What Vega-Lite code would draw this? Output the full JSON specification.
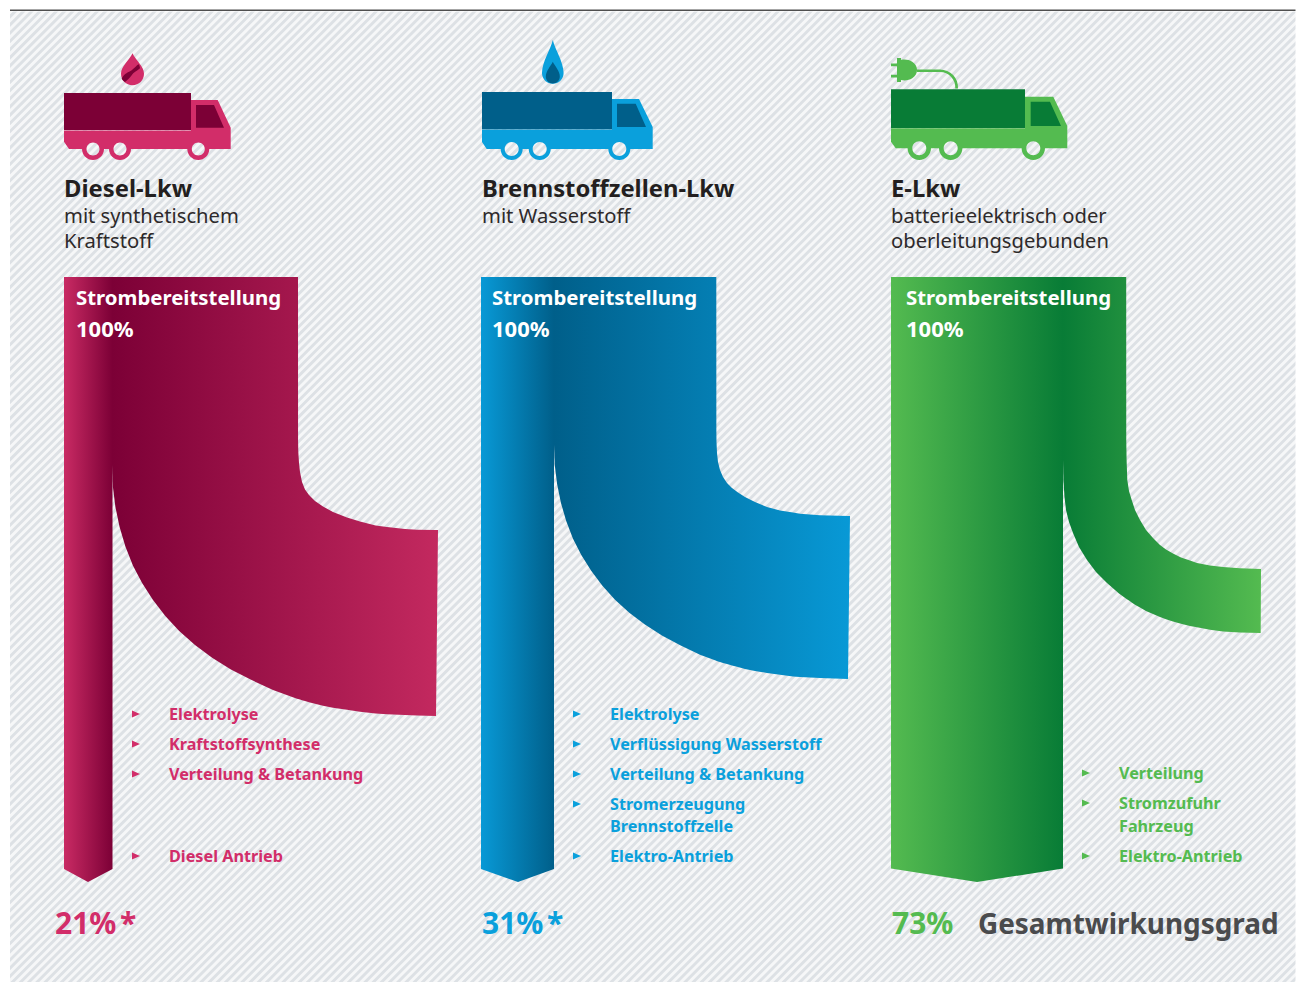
{
"$schema":"https://vega.github.io/schema/vega-lite/v6.json",
"width":1301,"height":983,"padding":0,"autosize":{"type":"none"},
"background":"#f6f7f8",
"view":{"stroke":null},
"config":{"font":"Noto Sans"},
"datasets":{
"hatch":[{"x":0,"y":0,"x2":1301,"y2":1301}],
"frame":[{"x":0,"x2":1301,"y":0,"y2":11.5},{"x":0,"x2":10,"y":0,"y2":983},{"x":1295.5,"x2":1301,"y":0,"y2":983},{"x":0,"x2":1301,"y":982,"y2":983}],
"topline":[{"x":10,"x2":1295.5,"y":10.3,"y2":10.3}],
"dieselLoss":[{"x":112,"y":277,"y2":465},{"x":112.8,"y":277,"y2":486},{"x":115.4,"y":277,"y2":507},{"x":119.6,"y":277,"y2":527},{"x":125.4,"y":277,"y2":546.6},{"x":132.9,"y":277,"y2":565.5},{"x":142.1,"y":277,"y2":583.1},{"x":153,"y":277,"y2":600},{"x":165.3,"y":277,"y2":616},{"x":179.2,"y":277,"y2":631},{"x":195,"y":277,"y2":645},{"x":212.1,"y":277,"y2":657.7},{"x":230.9,"y":277,"y2":669.5},{"x":251.1,"y":277,"y2":679.8},{"x":273,"y":277,"y2":690},{"x":296.3,"y":277,"y2":698.5},{"x":298,"y":277,"y2":699},{"x":298.05,"y":440,"y2":699},{"x":298.3,"y":452,"y2":699.1},{"x":299,"y":463,"y2":699.3},{"x":300,"y":472,"y2":699.6},{"x":302,"y":482,"y2":700.2},{"x":305,"y":489.5,"y2":701},{"x":309,"y":495,"y2":702.2},{"x":315,"y":501,"y2":703.8},{"x":323,"y":506.5,"y2":705.8},{"x":333,"y":512,"y2":707.8},{"x":347,"y":517.5,"y2":709.8},{"x":360,"y":521.5,"y2":711.7},{"x":375.6,"y":525.5,"y2":713.5},{"x":387,"y":527,"y2":714.2},{"x":405,"y":529,"y2":715},{"x":417,"y":529.7,"y2":715.4},{"x":436,"y":530,"y2":716},{"x":438,"y":530,"y2":530}],
"dieselCol":[{"x":64,"y":277,"y2":869},{"x":88,"y":277,"y2":882},{"x":112.5,"y":277,"y2":869}],
"h2Loss":[{"x":554,"y":277,"y2":445},{"x":554.7,"y":277,"y2":464.6},{"x":557.1,"y":277,"y2":484.1},{"x":560.9,"y":277,"y2":502.8},{"x":566.2,"y":277,"y2":521},{"x":573,"y":277,"y2":538.7},{"x":581.3,"y":277,"y2":555},{"x":591.2,"y":277,"y2":570.8},{"x":602.4,"y":277,"y2":585.7},{"x":615,"y":277,"y2":599.7},{"x":629.3,"y":277,"y2":612.8},{"x":644.9,"y":277,"y2":624.6},{"x":661.9,"y":277,"y2":635.6},{"x":680.2,"y":277,"y2":645.2},{"x":700,"y":277,"y2":654.7},{"x":716.3,"y":277,"y2":660.8},{"x":716.35,"y":430,"y2":660.8},{"x":716.5,"y":442,"y2":660.9},{"x":717,"y":453,"y2":661},{"x":718,"y":462,"y2":661.4},{"x":720,"y":470,"y2":662},{"x":723,"y":477,"y2":662.9},{"x":727,"y":483,"y2":664},{"x":732,"y":488,"y2":665.4},{"x":738,"y":492.5,"y2":667},{"x":745,"y":497,"y2":669},{"x":755,"y":502,"y2":671},{"x":767,"y":507,"y2":672.9},{"x":780,"y":510.5,"y2":674.8},{"x":793,"y":512.5,"y2":676.4},{"x":800,"y":513.7,"y2":677},{"x":820,"y":515.3,"y2":678},{"x":848,"y":516,"y2":679},{"x":850,"y":516,"y2":516}],
"h2Col":[{"x":481,"y":277,"y2":869},{"x":518,"y":277,"y2":882},{"x":554,"y":277,"y2":869}],
"eLoss":[{"x":1063,"y":277,"y2":460},{"x":1063.4,"y":277,"y2":480},{"x":1064.5,"y":277,"y2":497},{"x":1066,"y":277,"y2":510},{"x":1069,"y":277,"y2":522},{"x":1073,"y":277,"y2":533},{"x":1079,"y":277,"y2":547},{"x":1087,"y":277,"y2":560},{"x":1096,"y":277,"y2":572},{"x":1107,"y":277,"y2":583},{"x":1119,"y":277,"y2":593.5},{"x":1126.2,"y":277,"y2":598.8},{"x":1126.25,"y":440,"y2":598.8},{"x":1126.6,"y":460,"y2":599},{"x":1127.3,"y":480,"y2":599.5},{"x":1129,"y":491,"y2":600.6},{"x":1131.7,"y":500,"y2":602.4},{"x":1135,"y":510,"y2":604.8},{"x":1140,"y":520,"y2":607.6},{"x":1146,"y":530,"y2":611},{"x":1153,"y":538,"y2":614},{"x":1160,"y":545,"y2":617},{"x":1166,"y":549.5,"y2":619.2},{"x":1173,"y":553.5,"y2":621.5},{"x":1181,"y":557.5,"y2":623.8},{"x":1190,"y":560.5,"y2":626},{"x":1197,"y":563,"y2":627.3},{"x":1210,"y":565.5,"y2":629.8},{"x":1223,"y":567,"y2":631.5},{"x":1240,"y":568.3,"y2":632.5},{"x":1260.7,"y":569,"y2":633},{"x":1261,"y":569,"y2":569}],
"eCol":[{"x":891,"y":277,"y2":868.5},{"x":977,"y":277,"y2":882},{"x":1063,"y":277,"y2":868.5}],
"dieselTruck":[{"x":64,"y":93}],
"h2Truck":[{"x":482,"y":92}],
"eTruck":[{"x":891,"y":89.3}],
"dieselDrop":[{"x":132.5,"y":85.3}],
"h2Drop":[{"x":552.8,"y":84}],
"plug":[{"x":891,"y":58}],
"titles":[{"x":64,"y":197,"t":"Diesel-Lkw"},{"x":482,"y":197,"t":"Brennstoffzellen-Lkw"},{"x":891,"y":197,"t":"E-Lkw"}],
"subs":[{"x":64,"y":223,"t":"mit synthetischem"},{"x":64,"y":248,"t":"Kraftstoff"},{"x":482,"y":223,"t":"mit Wasserstoff"},{"x":891,"y":223,"t":"batterieelektrisch oder"},{"x":891,"y":248,"t":"oberleitungsgebunden"}],
"flow":[{"x":76,"y":305,"t":"Strombereitstellung"},{"x":492,"y":305,"t":"Strombereitstellung"},{"x":906,"y":305,"t":"Strombereitstellung"}],
"flowPct":[{"x":76,"y":337,"t":"100%"},{"x":492,"y":337,"t":"100%"},{"x":906,"y":337,"t":"100%"}],
"steps":[
{"x":169,"y":720,"t":"Elektrolyse","s":"Diesel"},{"x":169,"y":750,"t":"Kraftstoffsynthese","s":"Diesel"},{"x":169,"y":780,"t":"Verteilung & Betankung","s":"Diesel"},{"x":169,"y":862,"t":"Diesel Antrieb","s":"Diesel"},
{"x":610,"y":720,"t":"Elektrolyse","s":"H2"},{"x":610,"y":750,"t":"Verflüssigung Wasserstoff","s":"H2"},{"x":610,"y":780,"t":"Verteilung & Betankung","s":"H2"},{"x":610,"y":810,"t":"Stromerzeugung","s":"H2"},{"x":610,"y":832,"t":"Brennstoffzelle","s":"H2"},{"x":610,"y":862,"t":"Elektro-Antrieb","s":"H2"},
{"x":1119,"y":779,"t":"Verteilung","s":"E"},{"x":1119,"y":809,"t":"Stromzufuhr","s":"E"},{"x":1119,"y":832,"t":"Fahrzeug","s":"E"},{"x":1119,"y":862,"t":"Elektro-Antrieb","s":"E"}],
"bullets":[
{"x":136,"y":714,"s":"Diesel"},{"x":136,"y":744,"s":"Diesel"},{"x":136,"y":774,"s":"Diesel"},{"x":136,"y":856,"s":"Diesel"},
{"x":577,"y":714,"s":"H2"},{"x":577,"y":744,"s":"H2"},{"x":577,"y":774,"s":"H2"},{"x":577,"y":804,"s":"H2"},{"x":577,"y":856,"s":"H2"},
{"x":1086,"y":773,"s":"E"},{"x":1086,"y":803,"s":"E"},{"x":1086,"y":856,"s":"E"}],
"results":[{"x":55,"y":934,"t":"21%","s":"Diesel"},{"x":120,"y":934,"t":"*","s":"Diesel"},{"x":482,"y":934,"t":"31%","s":"H2"},{"x":547,"y":934,"t":"*","s":"H2"},{"x":892,"y":934,"t":"73%","s":"E"}],
"total":[{"x":978,"y":934,"t":"Gesamtwirkungsgrad"}]
},
"encoding":{
"x":{"field":"x","type":"quantitative","scale":{"domain":[0,1301],"nice":false,"zero":false},"axis":null},
"y":{"field":"y","type":"quantitative","scale":{"domain":[983,0],"nice":false,"zero":false},"axis":null}
},
"layer":[
{"data":{"name":"hatch"},"mark":{"type":"rule","stroke":"#dde1e5","strokeWidth":1950,"strokeDash":[2.9,2.9],"strokeCap":"butt"},"encoding":{"x2":{"field":"x2"},"y2":{"field":"y2"}}},
{"data":{"name":"frame"},"mark":{"type":"rect","fill":"#ffffff"},"encoding":{"x2":{"field":"x2"},"y2":{"field":"y2"}}},
{"data":{"name":"topline"},"mark":{"type":"rule","stroke":"#4f4f4f","strokeWidth":1.6},"encoding":{"x2":{"field":"x2"}}},

{"data":{"name":"dieselLoss"},"mark":{"type":"area","orient":"vertical","color":{"gradient":"linear","x1":0,"y1":0,"x2":1,"y2":0,"stops":[{"offset":0,"color":"#7c0036"},{"offset":1,"color":"#c3295f"}]}},"encoding":{"y2":{"field":"y2"}}},
{"data":{"name":"dieselCol"},"mark":{"type":"area","orient":"vertical","color":{"gradient":"linear","x1":0,"y1":0,"x2":1,"y2":0,"stops":[{"offset":0,"color":"#c92b64"},{"offset":1,"color":"#7c0036"}]}},"encoding":{"y2":{"field":"y2"}}},
{"data":{"name":"h2Loss"},"mark":{"type":"area","orient":"vertical","color":{"gradient":"linear","x1":0,"y1":0,"x2":1,"y2":0,"stops":[{"offset":0,"color":"#005f8a"},{"offset":1,"color":"#0899d6"}]}},"encoding":{"y2":{"field":"y2"}}},
{"data":{"name":"h2Col"},"mark":{"type":"area","orient":"vertical","color":{"gradient":"linear","x1":0,"y1":0,"x2":1,"y2":0,"stops":[{"offset":0,"color":"#0899d6"},{"offset":1,"color":"#005f8a"}]}},"encoding":{"y2":{"field":"y2"}}},
{"data":{"name":"eLoss"},"mark":{"type":"area","orient":"vertical","color":{"gradient":"linear","x1":0,"y1":0,"x2":1,"y2":0,"stops":[{"offset":0,"color":"#087c36"},{"offset":1,"color":"#54bb50"}]}},"encoding":{"y2":{"field":"y2"}}},
{"data":{"name":"eCol"},"mark":{"type":"area","orient":"vertical","color":{"gradient":"linear","x1":0,"y1":0,"x2":1,"y2":0,"stops":[{"offset":0,"color":"#54bb50"},{"offset":1,"color":"#087c36"}]}},"encoding":{"y2":{"field":"y2"}}},

{"data":{"name":"dieselTruck"},"mark":{"type":"point","filled":true,"opacity":1,"size":4,"strokeWidth":0,"color":"#d22d69","shape":"M0,37.5L127,37.5L127,7L153.7,7L166.7,34.7L166.7,56L140.8,56A6.5,6.5,0,0,0,127.8,56L62.5,56A6.5,6.5,0,0,0,49.5,56L35.5,56A6.5,6.5,0,0,0,22.5,56L5,56L0,48.7ZM145.3,56A11,11,0,0,1,123.3,56L127.8,56A6.5,6.5,0,0,0,140.8,56ZM67,56A11,11,0,0,1,45,56L49.5,56A6.5,6.5,0,0,0,62.5,56ZM40,56A11,11,0,0,1,18,56L22.5,56A6.5,6.5,0,0,0,35.5,56Z"}},
{"data":{"name":"dieselTruck"},"mark":{"type":"point","filled":true,"opacity":1,"size":4,"strokeWidth":0,"color":"#7c0036","shape":"M0,0L127,0L127,37L0,37ZM132,12L150,12L160,34.7L132,34.7Z"}},
{"data":{"name":"h2Truck"},"mark":{"type":"point","filled":true,"opacity":1,"size":4,"strokeWidth":0,"color":"#0aa0dc","shape":"M0,37.5L130,37.5L130,7L157,7L170.7,35L170.7,57L144.3,57A7,7,0,0,0,130.3,57L64.7,57A7,7,0,0,0,50.7,57L36.7,57A7,7,0,0,0,22.7,57L4.7,57L0,50ZM148.3,57A11,11,0,0,1,126.3,57L130.3,57A7,7,0,0,0,144.3,57ZM68.7,57A11,11,0,0,1,46.7,57L50.7,57A7,7,0,0,0,64.7,57ZM40.7,57A11,11,0,0,1,18.7,57L22.7,57A7,7,0,0,0,36.7,57Z"}},
{"data":{"name":"h2Truck"},"mark":{"type":"point","filled":true,"opacity":1,"size":4,"strokeWidth":0,"color":"#005f8a","shape":"M0,0L130,0L130,37.3L0,37.3ZM135,11.7L153.7,11.7L164,35L135,35Z"}},
{"data":{"name":"eTruck"},"mark":{"type":"point","filled":true,"opacity":1,"size":4,"strokeWidth":0,"color":"#54bb50","shape":"M0,39L134,39L134,7.4L162.3,7.4L176.3,36.7L176.3,59L149.3,59A7,7,0,0,0,135.3,59L66.7,59A7,7,0,0,0,52.7,59L35.3,59A7,7,0,0,0,21.3,59L4.7,59L0,52.4ZM154,59A11.7,11.7,0,0,1,130.6,59L135.3,59A7,7,0,0,0,149.3,59ZM71.4,59A11.7,11.7,0,0,1,48,59L52.7,59A7,7,0,0,0,66.7,59ZM40,59A11.7,11.7,0,0,1,16.6,59L21.3,59A7,7,0,0,0,35.3,59Z"}},
{"data":{"name":"eTruck"},"mark":{"type":"point","filled":true,"opacity":1,"size":4,"strokeWidth":0,"color":"#087c36","shape":"M0,0L134,0L134,38.7L0,38.7ZM139.7,12.4L159,12.4L170,36.7L139.7,36.7Z"}},
{"data":{"name":"dieselDrop"},"mark":{"type":"point","filled":true,"opacity":1,"size":4,"strokeWidth":0,"color":"#d22d69","shape":"M0,-32C-3,-25,-11.5,-19,-11.5,-11.5A11.5,11.5,0,0,0,11.5,-11.5C11.5,-19,3,-25,0,-32Z"}},
{"data":{"name":"dieselDrop"},"mark":{"type":"point","filled":true,"opacity":1,"size":4,"strokeWidth":0,"color":"#7c0036","shape":"M-10.8,-6.7C-8,-12,-4,-13,-0.8,-15C2,-17,4,-20,6.2,-21C7,-19.5,7.5,-18,7.5,-17C4,-14,1,-13,-0.8,-10C-3,-7,-5,-5,-7.5,-3.3C-9,-4,-10,-5,-10.8,-6.7Z"}},
{"data":{"name":"h2Drop"},"mark":{"type":"point","filled":true,"opacity":1,"size":4,"strokeWidth":0,"color":"#0aa0dc","shape":"M0,-44C-2,-35,-10.8,-22,-10.8,-11A10.8,10.8,0,0,0,10.8,-11C10.8,-22,2,-35,0,-44Z"}},
{"data":{"name":"h2Drop"},"mark":{"type":"point","filled":true,"opacity":1,"size":4,"strokeWidth":0,"color":"#005f8a","shape":"M0,-22.3C-2,-18,-7,-13,-7,-7.5A7,7,0,0,0,7,-7.5C7,-13,2,-18,0,-22.3Z"}},
{"data":{"name":"plug"},"mark":{"type":"point","filled":true,"opacity":1,"size":4,"strokeWidth":0,"color":"#54bb50","shape":"M6,0L10,0L10,2A12.5,10,0,0,1,26,12A12.5,10,0,0,1,10,22L10,24L6,24L6,19.5L0,19.5L0,16.8L6,16.8L6,8.3L0,8.3L0,5.6L6,5.6ZM26,11.4L49,11.4A18,18,0,0,1,67,30.5L64.3,30.5A15.5,15.5,0,0,0,49,14L26,14Z"}},

{"data":{"name":"titles"},"mark":{"type":"text","align":"left","baseline":"alphabetic","font":"Noto Sans","fontWeight":"bold","fontSize":23.8,"fill":"#231f20"},"encoding":{"text":{"field":"t"}}},
{"data":{"name":"subs"},"mark":{"type":"text","align":"left","baseline":"alphabetic","font":"Noto Sans","fontSize":20.2,"fill":"#2e2a2b"},"encoding":{"text":{"field":"t"}}},
{"data":{"name":"flow"},"mark":{"type":"text","align":"left","baseline":"alphabetic","font":"Noto Sans","fontWeight":"bold","fontSize":20.4,"fill":"#ffffff"},"encoding":{"text":{"field":"t"}}},
{"data":{"name":"flowPct"},"mark":{"type":"text","align":"left","baseline":"alphabetic","font":"Noto Sans","fontWeight":"bold","fontSize":22,"fill":"#ffffff"},"encoding":{"text":{"field":"t"}}},
{"data":{"name":"steps"},"mark":{"type":"text","align":"left","baseline":"alphabetic","font":"Noto Sans","fontWeight":"bold","fontSize":16.2},"encoding":{"text":{"field":"t"},"fill":{"field":"s","type":"nominal","legend":null,"scale":{"domain":["Diesel","H2","E","Gesamt"],"range":["#d22d69","#0aa0dc","#54bb50","#4a4b4d"]}}}},
{"data":{"name":"bullets"},"mark":{"type":"point","filled":true,"opacity":1,"shape":"M-4,-3.5L4,0L-4,3.5Z","size":4,"strokeWidth":0},"encoding":{"fill":{"field":"s","type":"nominal","legend":null,"scale":{"domain":["Diesel","H2","E","Gesamt"],"range":["#d22d69","#0aa0dc","#54bb50","#4a4b4d"]}}}},
{"data":{"name":"results"},"mark":{"type":"text","align":"left","baseline":"alphabetic","font":"Noto Sans","fontWeight":"bold","fontSize":30},"encoding":{"text":{"field":"t"},"fill":{"field":"s","type":"nominal","legend":null,"scale":{"domain":["Diesel","H2","E","Gesamt"],"range":["#d22d69","#0aa0dc","#54bb50","#4a4b4d"]}}}},
{"data":{"name":"total"},"mark":{"type":"text","align":"left","baseline":"alphabetic","font":"Noto Sans","fontWeight":"bold","fontSize":27.9,"fill":"#4a4b4d"},"encoding":{"text":{"field":"t"}}}
]
}
